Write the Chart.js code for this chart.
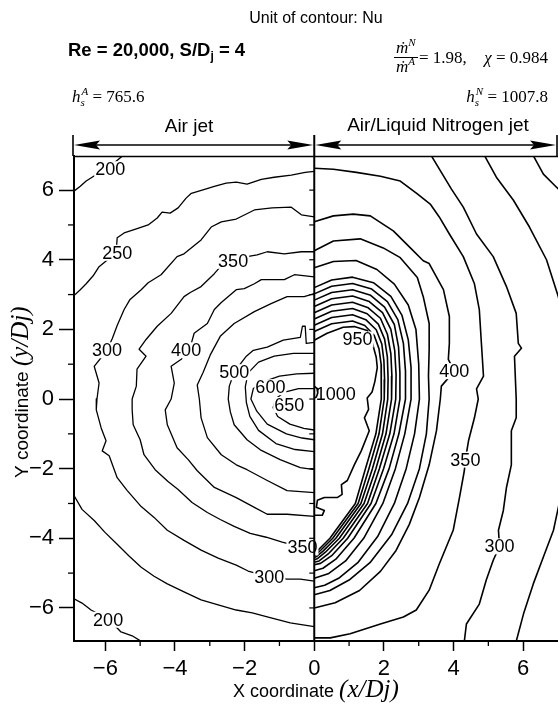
<!DOCTYPE html>
<html>
<head>
<meta charset="utf-8">
<script src="https://cdn.jsdelivr.net/npm/chart.js@4.4.1/dist/chart.umd.min.js"></script>
<style>
  html, body { margin: 0; padding: 0; background: #fff; }
  canvas { display: block; }
</style>
</head>
<body>
<canvas id="c" width="558" height="705"></canvas>
<script>
// ── Axis ticks ──
const xTicks = [-6, -4, -2, 0, 2, 4, 6];
const yTicks = [-6, -4, -2, 0, 2, 4, 6];
const minorTicks = [-5, -3, -1, 1, 3, 5];
const sideTicks = [-6, -5, -4, -3, -2, -1, 0, 1, 2, 3, 4, 5, 6];

// ── Air jet contours (x/Dj, y/Dj), left half ──
const air200top = [[-6.90,5.97],[-6.72,6.11],[-6.55,6.26],[-6.38,6.37],[-6.10,6.55],[-5.75,6.78],[-5.50,6.99]];
const air200bot = [[-6.90,-5.74],[-6.67,-5.86],[-6.41,-6.06],[-5.89,-6.34],[-5.55,-6.69],[-5.23,-6.80],[-4.97,-6.96]];
const air250top = [[-6.90,2.97],[-6.72,3.14],[-6.55,3.31],[-6.35,3.54],[-6.18,3.80],[-5.69,4.20],[-5.66,4.63],[-5.46,4.77],
  [-5.11,4.89],[-4.77,5.00],[-4.51,5.20],[-4.37,5.37],[-4.14,5.34],[-3.91,5.49],[-3.68,5.77],[-3.53,5.91],[-3.22,6.00],
  [-2.87,6.11],[-2.53,6.20],[-2.24,6.23],[-1.93,6.17],[-1.52,6.31],[-1.15,6.37],[-0.66,6.43],[-0.26,6.51],[0,6.54]];
const air250bot = [[-6.90,-2.77],[-6.67,-3.17],[-6.32,-3.49],[-6.01,-3.83],[-5.66,-4.17],[-5.32,-4.51],[-4.97,-4.83],
  [-4.60,-5.09],[-4.22,-5.31],[-3.74,-5.54],[-3.25,-5.77],[-2.76,-5.91],[-2.24,-6.06],[-1.78,-6.14],[-1.35,-6.26],
  [-0.69,-6.43],[0,-6.54]];
const air300 = [[0,5.23],[-0.37,5.29],[-0.66,5.51],[-1.21,5.49],[-1.72,5.43],[-2.24,5.17],[-2.67,5.09],[-2.96,4.94],
  [-3.25,4.57],[-3.74,4.17],[-3.94,4.09],[-4.40,3.57],[-4.77,3.34],[-4.97,3.14],[-5.29,2.86],[-5.46,2.57],[-5.66,2.11],
  [-5.80,1.74],[-5.95,1.40],[-6.32,0.94],[-6.18,0.46],[-6.24,0.00],[-6.26,-0.31],[-6.12,-0.83],[-5.98,-1.20],
  [-6.09,-1.49],[-5.89,-1.63],[-5.66,-2.26],[-5.37,-2.63],[-4.97,-3.09],[-4.60,-3.40],[-4.22,-3.77],[-3.74,-4.06],
  [-3.25,-4.34],[-2.76,-4.57],[-2.24,-4.77],[-1.90,-4.94],[-1.29,-5.11],[-0.78,-5.17],[-0.40,-5.17],[0,-5.23]];
const air350 = [[0,4.23],[-0.37,4.23],[-0.86,4.17],[-1.35,4.23],[-1.64,4.14],[-1.93,4.09],[-2.33,3.97],[-2.67,3.83],
  [-2.87,3.60],[-3.25,3.23],[-3.56,3.06],[-3.74,2.94],[-4.11,2.46],[-4.51,2.09],[-4.83,1.71],[-5.03,1.43],[-4.83,1.23],
  [-5.09,0.86],[-5.11,0.37],[-5.23,0.00],[-5.23,-0.31],[-5.20,-0.74],[-5.00,-1.17],[-4.89,-1.60],[-4.57,-2.03],
  [-4.20,-2.37],[-3.91,-2.60],[-3.51,-2.97],[-3.07,-3.26],[-2.70,-3.46],[-2.30,-3.66],[-1.84,-3.86],[-1.38,-3.97],
  [-0.92,-4.11],[-0.34,-4.26],[0,-4.31]];
const air400 = [[0,3.51],[-0.57,3.57],[-0.86,3.43],[-1.52,3.43],[-1.72,3.31],[-2.01,3.17],[-2.24,3.14],[-2.67,2.77],
  [-2.87,2.57],[-3.07,2.17],[-3.45,1.89],[-3.53,1.60],[-3.68,1.40],[-3.82,1.14],[-4.11,0.94],[-4.02,0.46],[-4.11,0.00],
  [-4.28,-0.31],[-4.22,-0.74],[-3.94,-1.40],[-3.62,-1.74],[-3.36,-2.06],[-2.87,-2.54],[-2.24,-2.83],[-1.72,-3.11],
  [-1.35,-3.31],[-0.78,-3.31],[0,-3.37]];
const air450 = [[0,3.03],[-0.29,2.94],[-0.78,2.94],[-1.24,2.74],[-1.72,2.51],[-2.30,2.17],[-2.70,1.80],[-2.99,1.26],
  [-3.19,0.77],[-3.36,0.40],[-3.30,0.00],[-3.25,-0.54],[-3.07,-1.11],[-2.67,-1.60],[-2.24,-1.89],[-1.93,-2.03],
  [-1.35,-2.34],[-0.78,-2.63],[0,-2.69]];
const air500 = [[0,1.63],[-0.23,1.60],[-0.26,2.09],[-0.34,2.09],[-0.40,1.77],[-0.89,1.69],[-1.35,1.49],[-1.75,1.40],
  [-1.95,1.23],[-2.30,0.77],[-2.44,0.37],[-2.47,0.00],[-2.41,-0.37],[-2.30,-0.74],[-1.93,-1.17],[-1.55,-1.46],
  [-0.98,-1.74],[-0.40,-1.97],[0,-2.03]];
const air550 = [[0,1.31],[-0.60,1.31],[-1.15,1.23],[-1.60,1.06],[-1.90,0.75],[-1.98,0.35],[-1.95,-0.10],[-1.85,-0.50],
  [-1.60,-0.90],[-1.10,-1.28],[-0.55,-1.45],[0,-1.51]];
const air600 = [[0,0.74],[-0.50,0.72],[-1.00,0.66],[-1.45,0.50],[-1.75,0.30],[-1.82,0.00],[-1.65,-0.35],[-1.35,-0.72],
  [-0.80,-1.00],[-0.35,-1.12],[0,-1.17]];
const air650 = [[0,0.30],[-0.45,0.30],[-0.85,0.20],[-1.12,0.00],[-1.18,-0.25],[-1.05,-0.50],[-0.70,-0.72],[-0.30,-0.84],[0,-0.89]];

// ── Air/Liquid nitrogen jet contours, right half ──
const ln200 = [[6.29,6.99],[6.58,6.46],[6.95,6.09],[7.40,5.65]];
const ln250 = [[4.89,6.99],[5.23,6.37],[5.72,5.71],[6.18,4.94],[6.67,4.00],[7.01,2.94],[7.25,1.70],[7.35,0.00],
  [7.25,-2.00],[7.01,-3.11],[6.87,-3.77],[6.58,-4.54],[6.29,-5.31],[6.01,-6.17],[5.80,-6.96]];
const ln300 = [[3.36,6.99],[3.94,6.03],[4.28,5.51],[4.66,4.74],[5.14,4.09],[5.52,3.23],[5.80,2.46],[5.86,1.60],
  [5.95,1.46],[5.75,1.23],[5.80,0.00],[5.80,-0.54],[5.66,-0.91],[5.66,-1.89],[5.52,-2.54],[5.43,-3.20],[5.29,-3.77],
  [5.32,-4.23],[5.14,-4.63],[4.94,-5.20],[4.74,-5.89],[4.37,-6.46],[4.31,-6.96]];
const ln350 = [[0,6.63],[0.55,6.60],[1.21,6.51],[1.90,6.40],[2.47,6.26],[2.96,5.89],[3.33,5.60],[3.59,5.23],[3.88,4.74],
  [4.28,4.09],[4.60,3.31],[4.74,2.57],[4.80,1.60],[4.86,0.66],[4.66,0.29],[4.71,0.00],[4.60,-0.54],[4.43,-1.20],
  [4.34,-1.74],[4.31,-2.06],[4.17,-2.83],[3.99,-3.77],[3.59,-4.74],[3.30,-5.49],[2.93,-6.06],[2.56,-6.26],[1.90,-6.46],
  [1.03,-6.74],[0.46,-6.86],[0,-6.86]];
const ln400 = [[0,5.09],[0.55,5.26],[1.12,5.31],[1.61,5.26],[2.27,4.83],[2.76,4.34],[3.13,3.97],[3.30,3.89],[3.71,3.14],
  [3.88,2.37],[3.88,1.60],[3.85,1.14],[4.02,0.80],[3.65,0.37],[3.62,0.00],[3.51,-0.91],[3.30,-1.89],[3.02,-2.83],
  [2.73,-3.60],[2.35,-4.35],[1.90,-4.95],[1.30,-5.50],[0.60,-5.85],[0,-6.00]];
const ln450 = [[0,4.26],[0.55,4.54],[1.32,4.60],[1.98,4.34],[2.47,4.06],[2.96,3.49],[3.13,2.94],[3.30,2.17],[3.30,1.43],
  [3.28,0.66],[3.30,0.00],[3.22,-1.00],[3.02,-2.00],[2.68,-3.00],[2.22,-3.90],[1.60,-4.70],[1.00,-5.20],[0.45,-5.50],[0,-5.62]];
const ln500 = [[0,3.77],[0.55,3.95],[1.20,3.98],[1.80,3.72],[2.30,3.30],[2.70,2.70],[2.92,2.00],[3.00,1.00],[3.02,0.00],
  [2.88,-1.00],[2.64,-2.00],[2.30,-3.00],[1.82,-3.95],[1.25,-4.70],[0.70,-5.15],[0.30,-5.35],[0,-5.42]];
const ln550 = [[0,3.20],[0.50,3.42],[1.10,3.50],[1.70,3.34],[2.20,2.95],[2.52,2.40],[2.70,1.70],[2.78,0.90],[2.78,0.00],
  [2.60,-1.00],[2.33,-2.00],[1.97,-3.00],[1.42,-4.00],[0.90,-4.65],[0.40,-5.02],[0,-5.15]];
const ln600 = [[0,3.02],[0.50,3.24],[1.10,3.32],[1.65,3.16],[2.10,2.80],[2.40,2.28],[2.56,1.60],[2.62,0.80],[2.62,0.00],
  [2.43,-1.00],[2.15,-2.00],[1.77,-3.00],[1.14,-4.00],[0.62,-4.60],[0.25,-4.86],[0,-4.93]];
const ln650 = [[0,2.84],[0.50,3.06],[1.10,3.14],[1.62,2.98],[2.02,2.64],[2.30,2.14],[2.42,1.50],[2.46,0.75],[2.46,0.00],
  [2.29,-1.00],[1.99,-2.00],[1.63,-3.00],[0.96,-4.00],[0.50,-4.50],[0.18,-4.72],[0,-4.76]];
const ln700 = [[0,2.66],[0.50,2.88],[1.10,2.96],[1.58,2.80],[1.96,2.48],[2.20,2.00],[2.31,1.40],[2.35,0.70],[2.34,0.00],
  [2.17,-1.00],[1.87,-2.00],[1.53,-3.00],[0.83,-4.00],[0.40,-4.45],[0.14,-4.65],[0,-4.69]];
const ln750 = [[0,2.48],[0.50,2.70],[1.10,2.78],[1.55,2.62],[1.90,2.32],[2.10,1.86],[2.20,1.30],[2.23,0.65],[2.22,0.00],
  [2.06,-1.00],[1.77,-2.00],[1.43,-3.00],[0.72,-4.00],[0.32,-4.40],[0.10,-4.58],[0,-4.62]];
const ln800 = [[0,2.30],[0.50,2.52],[1.10,2.60],[1.52,2.45],[1.84,2.15],[2.02,1.72],[2.10,1.20],[2.12,0.60],[2.11,0.00],
  [1.96,-1.00],[1.67,-2.00],[1.34,-3.00],[0.62,-4.00],[0.26,-4.36],[0.07,-4.52],[0,-4.56]];
const ln850 = [[0,2.12],[0.50,2.34],[1.10,2.42],[1.48,2.28],[1.78,1.99],[1.94,1.58],[2.00,1.10],[2.02,0.55],[2.01,0.00],
  [1.86,-1.00],[1.57,-2.00],[1.26,-3.00],[0.53,-4.00],[0.20,-4.33],[0.05,-4.47],[0,-4.50]];
const ln900 = [[0,1.94],[0.50,2.16],[1.10,2.24],[1.45,2.11],[1.72,1.83],[1.86,1.44],[1.92,1.00],[1.93,0.50],[1.92,0.00],
  [1.77,-1.00],[1.47,-2.00],[1.18,-3.00],[0.45,-4.00],[0.15,-4.30],[0.03,-4.42],[0,-4.44]];
const ln950 = [[0,1.69],[0.37,1.89],[0.83,2.06],[1.15,2.08],[1.52,1.97],[1.67,1.60],[1.78,1.20],[1.81,0.90],[1.74,0.50],
  [1.66,0.20],[1.52,0.03],[1.56,-0.30],[1.44,-0.54],[1.58,-0.91],[1.35,-1.49],[1.15,-1.89],[0.95,-2.34],[0.78,-2.46],
  [0.80,-2.74],[0.66,-2.83],[0.29,-2.83],[0.09,-2.91],[0.06,-3.11],[0.29,-3.20],[0.23,-3.34],[0,-3.34]];
const ln1000 = [[0,0.37],[0.08,0.30],[0.10,0.17],[0.06,0.06],[0,0.03]];

const airContours = [air200top, air200bot, air250top, air250bot, air300, air350, air400, air450, air500, air550, air600, air650];
const ln2Contours = [ln200, ln250, ln300, ln350, ln400, ln450, ln500, ln550, ln600, ln650, ln700, ln750, ln800, ln850, ln900, ln950, ln1000];

// ── Contour labels ──
const labelText = ['200', '250', '350', '300', '400', '500', '600', '650', '350', '300', '200', '950', '1000', '400', '350', '300'];
const labelX    = [-5.86, -5.66, -2.33, -5.95, -3.68, -2.30, -1.26, -0.72, -0.34, -1.29, -5.92, 1.24, 0.62, 4.02, 4.34, 5.32];
const labelY    = [6.60, 4.20, 3.97, 1.40, 1.40, 0.77, 0.34, -0.17, -4.26, -5.11, -6.34, 1.71, 0.14, 0.80, -1.74, -4.23];
const labelBg   = [true, true, true, true, true, true, true, true, true, true, true, true, false, true, true, true];

// ── Fonts ──
const SANS  = '"Liberation Sans", Arial, sans-serif';
const SERIF = '"Liberation Serif", "Times New Roman", serif';
const TICK_FONT = { family: SANS, size: 22 };

const fmt = v => (v < 0 ? '\u2212' + Math.abs(v) : String(v));

function toPts(arr) { return arr.map(([x, y]) => ({ x, y })); }

const datasets = [
  ...airContours.map(c => ({ data: toPts(c), borderWidth: 1.3 })),
  ...ln2Contours.map(c => ({ data: toPts(c), borderWidth: 1.6 })),
].map(d => ({ ...d, showLine: true, borderColor: '#000', pointRadius: 0, fill: false, tension: 0, borderJoinStyle: 'round' }));

// draw a run of text pieces, returns end x
function runs(ctx, x, y, parts) {
  for (const [t, f, dy] of parts) {
    ctx.font = f;
    ctx.fillText(t, x, y + (dy || 0));
    x += ctx.measureText(t).width;
  }
  return x;
}
function stacked(ctx, x, y, sub, sup, f) {
  ctx.font = f;
  ctx.fillText(sub, x, y + 4);
  ctx.fillText(sup, x + 1, y - 7);
  return x + Math.max(ctx.measureText(sub).width, ctx.measureText(sup).width + 1);
}
function arrowHead(ctx, tipX, y, dir) {
  ctx.beginPath();
  ctx.moveTo(tipX, y);
  ctx.lineTo(tipX + dir * 26, y - 4.5);
  ctx.lineTo(tipX + dir * 22, y);
  ctx.lineTo(tipX + dir * 26, y + 4.5);
  ctx.closePath();
  ctx.fill();
}

const extras = {
  id: 'extras',
  afterDatasetsDraw(chart) {
    const { ctx, chartArea: a, scales: { x, y } } = chart;
    ctx.save();
    ctx.fillStyle = '#000';
    ctx.strokeStyle = '#000';

    // contour labels
    ctx.font = '18px ' + SANS;
    ctx.textAlign = 'center';
    ctx.textBaseline = 'middle';
    labelText.forEach((t, i) => {
      const px = x.getPixelForValue(labelX[i]);
      const py = y.getPixelForValue(labelY[i]);
      const w = ctx.measureText(t).width;
      if (labelBg[i]) {
        ctx.fillStyle = '#fff';
        ctx.fillRect(px - w / 2 - 1, py - 8, w + 2, 16);
      }
      ctx.fillStyle = '#000';
      ctx.fillText(t, px, py + 1);
    });

    // top frame line
    ctx.lineWidth = 1.5;
    ctx.beginPath();
    ctx.moveTo(a.left, a.top + 0.5);
    ctx.lineTo(a.right, a.top + 0.5);
    ctx.stroke();

    // dividing line x = 0
    const x0 = x.getPixelForValue(0);
    ctx.lineWidth = 2;
    ctx.beginPath();
    ctx.moveTo(x0, a.top - 21);
    ctx.lineTo(x0, a.bottom);
    ctx.stroke();
    ctx.lineWidth = 1.2;
    sideTicks.forEach(v => {
      const py = y.getPixelForValue(v);
      ctx.beginPath();
      ctx.moveTo(x0 - 5, py);
      ctx.lineTo(x0, py);
      ctx.stroke();
    });

    // minor ticks on axes
    ctx.lineWidth = 1.3;
    minorTicks.forEach(v => {
      const px = x.getPixelForValue(v);
      ctx.beginPath();
      ctx.moveTo(px, a.bottom);
      ctx.lineTo(px, a.bottom + 5);
      ctx.stroke();
      const py = y.getPixelForValue(v);
      ctx.beginPath();
      ctx.moveTo(a.left - 6, py);
      ctx.lineTo(a.left, py);
      ctx.stroke();
    });

    // arrows above the plot
    const ay = a.top - 11;
    ctx.lineWidth = 1.6;
    [[a.left - 1, x0], [x0, a.right - 1]].forEach(([l, r]) => {
      ctx.beginPath();
      ctx.moveTo(l + 20, ay);
      ctx.lineTo(r - 20, ay);
      ctx.stroke();
      arrowHead(ctx, l + 1, ay, 1);
      arrowHead(ctx, r - 1, ay, -1);
    });
    [a.left - 1, a.right - 1].forEach(bx => {
      ctx.beginPath();
      ctx.moveTo(bx, a.top - 21);
      ctx.lineTo(bx, a.top);
      ctx.stroke();
    });
    ctx.restore();
  },
  afterDraw(chart) {
    const { ctx } = chart;
    ctx.save();
    ctx.fillStyle = '#000';
    ctx.strokeStyle = '#000';
    ctx.textBaseline = 'alphabetic';

    // header
    ctx.textAlign = 'center';
    ctx.font = '16px ' + SANS;
    ctx.fillText('Unit of contour: Nu', 316, 23);

    ctx.textAlign = 'left';
    let cx = runs(ctx, 68, 56, [['Re = 20,000, S/D', 'bold 18.5px ' + SANS]]);
    cx = runs(ctx, cx, 60, [['j', 'bold 12px ' + SANS]]);
    runs(ctx, cx, 56, [[' = 4', 'bold 18.5px ' + SANS]]);

    // mass flow ratio fraction
    const IT = 'italic 17px ' + SERIF, ITS = 'italic 11px ' + SERIF;
    runs(ctx, 396, 53, [['\u1E41', IT], ['N', ITS, -7]]);
    runs(ctx, 396, 72, [['\u1E41', IT], ['A', ITS, -7]]);
    ctx.lineWidth = 1;
    ctx.beginPath();
    ctx.moveTo(394, 57.5);
    ctx.lineTo(418, 57.5);
    ctx.stroke();
    runs(ctx, 419, 63, [['= 1.98,', '17px ' + SERIF]]);
    ctx.font = '17px ' + SERIF;
    const chiRest = ' = 0.984';
    const wRest = ctx.measureText(chiRest).width;
    ctx.font = 'italic 17px ' + SERIF;
    const wChi = ctx.measureText('\u03C7').width;
    runs(ctx, 548 - wRest - wChi, 63, [['\u03C7', 'italic 17px ' + SERIF], [chiRest, '17px ' + SERIF]]);

    // stagnation heat transfer coefficients
    const H = 'italic 17px ' + SERIF, HS = 'italic 11px ' + SERIF;
    cx = runs(ctx, 72, 102, [['h', H]]);
    cx = stacked(ctx, cx, 102, 's', 'A', HS);
    runs(ctx, cx, 102, [[' = 765.6', '17px ' + SERIF]]);

    ctx.font = H; const wh = ctx.measureText('h').width;
    ctx.font = HS; const wn = Math.max(ctx.measureText('s').width, ctx.measureText('N').width + 1);
    ctx.font = '17px ' + SERIF; const wv = ctx.measureText(' = 1007.8').width;
    cx = runs(ctx, 548 - wh - wn - wv, 102, [['h', H]]);
    cx = stacked(ctx, cx, 102, 's', 'N', HS);
    runs(ctx, cx, 102, [[' = 1007.8', '17px ' + SERIF]]);

    // section titles
    ctx.textAlign = 'center';
    ctx.font = '19px ' + SANS;
    ctx.fillText('Air jet', 189, 132);
    ctx.fillText('Air/Liquid Nitrogen jet', 438, 131);

    // axis titles
    ctx.textAlign = 'left';
    cx = runs(ctx, 233, 697, [['X coordinate ', '18px ' + SANS]]);
    runs(ctx, cx, 697, [['(x/Dj)', 'italic 25px ' + SERIF]]);

    ctx.translate(28, 478);
    ctx.rotate(-Math.PI / 2);
    cx = runs(ctx, 0, 0, [['Y coordinate ', '19px ' + SANS]]);
    runs(ctx, cx, 0, [['(y/Dj)', 'italic 25px ' + SERIF]]);
    ctx.restore();
  }
};

new Chart(document.getElementById('c'), {
  type: 'scatter',
  data: { datasets },
  options: {
    responsive: false,
    animation: false,
    devicePixelRatio: 1,
    layout: { padding: { top: 156, left: 0, right: 0, bottom: 0 } },
    plugins: { legend: { display: false }, tooltip: { enabled: false } },
    scales: {
      x: {
        type: 'linear', min: -6.9, max: 7.0,
        afterBuildTicks: s => { s.ticks = xTicks.map(v => ({ value: v })); },
        afterFit: s => { s.height = 64; },
        grid: { drawOnChartArea: false, drawTicks: true, tickLength: 10, tickWidth: 1.5, tickColor: '#000' },
        border: { display: true, color: '#000', width: 2 },
        ticks: { color: '#000', font: TICK_FONT, padding: 5, maxRotation: 0, autoSkip: false, callback: fmt },
      },
      y: {
        type: 'linear', min: -6.95, max: 6.98,
        afterBuildTicks: s => { s.ticks = yTicks.map(v => ({ value: v })); },
        afterFit: s => { s.width = 74; },
        grid: { drawOnChartArea: false, drawTicks: true, tickLength: 15, tickWidth: 1.5, tickColor: '#000' },
        border: { display: true, color: '#000', width: 2 },
        ticks: { color: '#000', font: TICK_FONT, padding: 5, autoSkip: false, callback: fmt },
      },
    },
  },
  plugins: [extras],
});
</script>
</body>
</html>
